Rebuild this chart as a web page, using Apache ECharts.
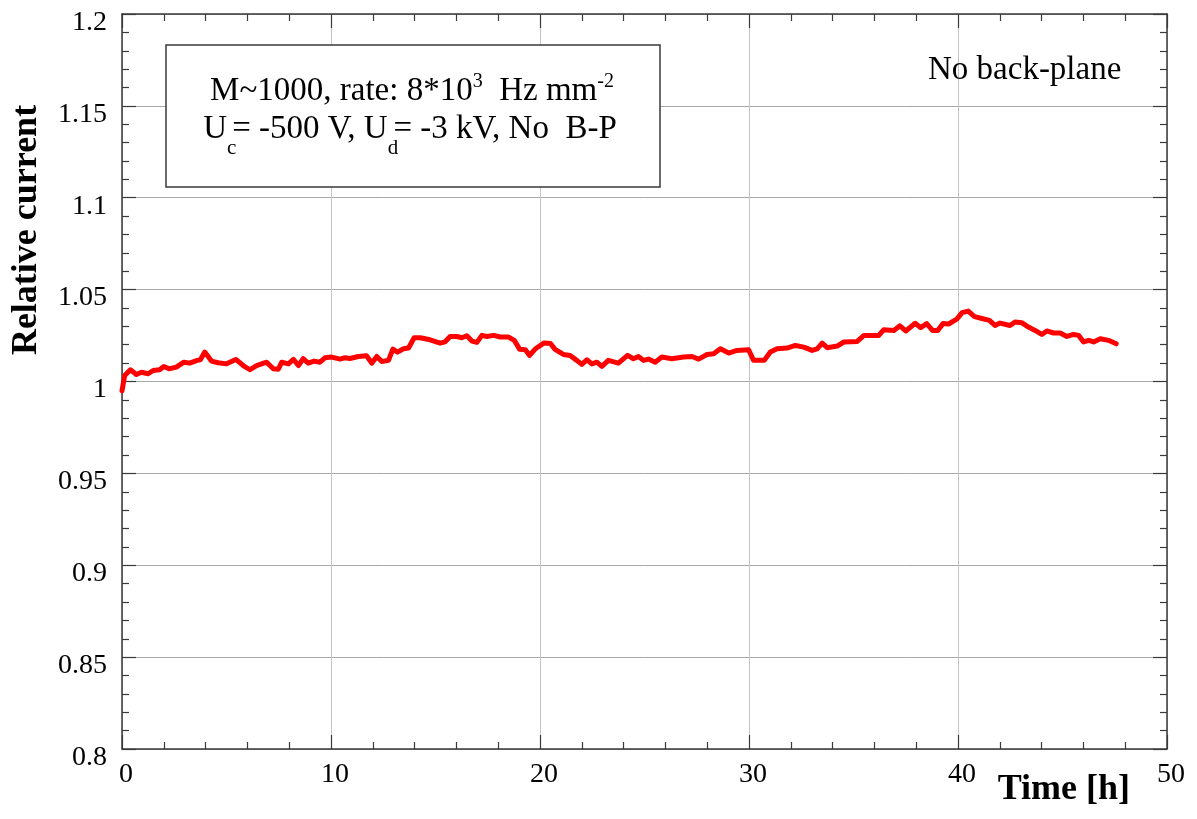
<!DOCTYPE html>
<html>
<head>
<meta charset="utf-8">
<script src="https://cdn.jsdelivr.net/npm/echarts@6/dist/echarts.min.js"></script>
<style>
  html, body { margin: 0; padding: 0; background: #ffffff; }
  #chart { width: 1197px; height: 819px; }
</style>
</head>
<body>
<div id="chart"></div>
<script>
// Relative anode current versus irradiation time (no back-plane configuration)
const hours = [
  0.0, 0.13, 0.4, 0.69, 0.93, 1.25, 1.49, 1.8, 2.0, 2.25, 2.6, 2.96, 3.24, 3.6, 3.75, 3.96,
  4.28, 4.6, 5.0, 5.45, 5.8, 6.12, 6.44, 6.92, 7.24, 7.48, 7.64, 7.96, 8.2, 8.44, 8.67, 8.91,
  9.19, 9.47, 9.71, 10.03, 10.43, 10.67, 10.9, 11.31, 11.7, 11.95, 12.19, 12.43, 12.75, 12.96,
  13.18, 13.47, 13.71, 13.98, 14.27, 14.74, 15.22, 15.46, 15.7, 16.02, 16.26, 16.5, 16.74, 16.98,
  17.22, 17.46, 17.78, 18.1, 18.5, 18.77, 19.03, 19.3, 19.5, 19.78, 20.2, 20.5, 20.72, 21.12,
  21.44, 21.76, 22.0, 22.24, 22.48, 22.72, 22.96, 23.27, 23.75, 24.19, 24.47, 24.71, 24.95, 25.19,
  25.51, 25.83, 26.31, 26.87, 27.27, 27.59, 27.99, 28.31, 28.63, 29.03, 29.42, 29.98, 30.22, 30.73,
  31.02, 31.34, 31.82, 32.22, 32.62, 33.02, 33.26, 33.5, 33.74, 34.22, 34.54, 35.18, 35.5, 36.21,
  36.45, 36.93, 37.22, 37.5, 37.95, 38.21, 38.5, 38.78, 39.03, 39.28, 39.55, 39.94, 40.2, 40.49,
  40.79, 41.15, 41.5, 41.77, 42.01, 42.49, 42.73, 43.05, 43.37, 43.69, 44.01, 44.25, 44.57, 44.89,
  45.21, 45.53, 45.77, 46.01, 46.25, 46.49, 46.81, 47.2, 47.57
];
const current = [
  0.995, 1.0033, 1.0064, 1.0038, 1.005, 1.0042, 1.006, 1.0064, 1.0082, 1.0069, 1.0078, 1.0105, 1.01, 1.0115, 1.0118, 1.016,
  1.0111, 1.0102, 1.0096, 1.012, 1.0087, 1.0064, 1.0087, 1.0105, 1.0069, 1.0067, 1.0105, 1.0096, 1.012, 1.0087, 1.0124, 1.01,
  1.0111, 1.0105, 1.0129, 1.0133, 1.0122, 1.0129, 1.0125, 1.0136, 1.014, 1.01, 1.0136, 1.0109, 1.0115, 1.0176,
  1.016, 1.0178, 1.0182, 1.0238, 1.0238, 1.0227, 1.0209, 1.0216, 1.0245, 1.0245, 1.0238, 1.0249, 1.022, 1.0213,
  1.0251, 1.0245, 1.0251, 1.0242, 1.0242, 1.0224, 1.0175, 1.0173, 1.0142, 1.0178, 1.021, 1.0207, 1.0175, 1.0147,
  1.0142, 1.0115, 1.0093, 1.0118, 1.0096, 1.0105, 1.0082, 1.0115, 1.01, 1.0142, 1.0124, 1.0136, 1.0115, 1.0122,
  1.0105, 1.0133, 1.0124, 1.0133, 1.0136, 1.0122, 1.0147, 1.0151, 1.0178, 1.0155, 1.0169, 1.0173, 1.0115, 1.0115,
  1.016, 1.0178, 1.0182, 1.0196, 1.0187, 1.0169, 1.0178, 1.0209, 1.0184, 1.0193, 1.0215, 1.0218, 1.0251, 1.0251,
  1.0282, 1.0278, 1.0303, 1.0275, 1.0317, 1.0293, 1.0315, 1.0278, 1.0278, 1.0315, 1.0313, 1.0339, 1.0375, 1.0383,
  1.0353, 1.0343, 1.0333, 1.0305, 1.0318, 1.0305, 1.0324, 1.032, 1.0296, 1.0278, 1.0256, 1.0275, 1.0264, 1.0264,
  1.0245, 1.0256, 1.0251, 1.0215, 1.0224, 1.0215, 1.0233, 1.0224, 1.0205
];

const xTicks = [0, 10, 20, 30, 40, 50];
const yTicks = [0.8, 0.85, 0.9, 0.95, 1, 1.05, 1.1, 1.15, 1.2];

const xTitle = 'Time [h]';
const yTitle = 'Relative current';
const cornerNote = 'No back-plane';
// Legend box lines, split into normal / superscript / subscript pieces
const boxLine1 = [
  { t: 'M~1000, rate: 8*10', k: 'n' },
  { t: '3', k: 'sup' },
  { t: '  Hz mm', k: 'n' },
  { t: '-2', k: 'sup' }
];
const boxLine2 = [
  { t: 'U', k: 'n' },
  { t: 'c', k: 'sub' },
  { t: '= -500 V, U', k: 'n' },
  { t: 'd', k: 'sub' },
  { t: '= -3 kV, No  B-P', k: 'n' }
];

const SERIF = '"Liberation Serif", "Times New Roman", serif';
const FRAME = '#3a3a3a';

const chart = echarts.init(document.getElementById('chart'), null, { renderer: 'canvas' });

// measure text runs so sub/superscripts can be laid out by hand
const mctx = document.createElement('canvas').getContext('2d');
function textWidth(str, size) {
  mctx.font = size + 'px ' + SERIF;
  return mctx.measureText(str).width;
}
// place a text run so that its alphabetic baseline sits at `baseline`
function baselineText(str, x, baseline, font, size, align) {
  return {
    type: 'text',
    x: x,
    y: baseline - 0.33 * size,
    z: 20,
    style: {
      text: str,
      font: font,
      fill: '#000',
      align: align || 'left',
      verticalAlign: 'middle'
    }
  };
}
function layoutLine(pieces, cx, baseline) {
  const spec = {
    n: { size: 33, dy: 0 },
    sup: { size: 20, dy: -14 },
    sub: { size: 21, dy: 15 }
  };
  const widths = pieces.map(p => {
    const w = textWidth(p.t, spec[p.k].size);
    return p.k === 'sub' ? w * 0.55 : w;
  });
  const total = widths.reduce((a, b) => a + b, 0);
  let x = cx - total / 2;
  return pieces.map((p, i) => {
    const s = spec[p.k];
    const el = baselineText(p.t, x, baseline + s.dy, s.size + 'px ' + SERIF, s.size, 'left');
    x += widths[i];
    return el;
  });
}

// frame axes: ticks point into the plot, axes stay on the frame edges
function axisStyle() {
  return {
    axisLine: { show: true, onZero: false, lineStyle: { color: FRAME, width: 1.5 } },
    axisTick: { show: true, inside: true, length: 14, lineStyle: { color: FRAME, width: 1.2 } },
    minorTick: { show: true, splitNumber: 5, length: 7, lineStyle: { color: FRAME, width: 1.2 } }
  };
}

const option = {
  backgroundColor: '#ffffff',
  animation: false,
  grid: { left: 122, right: 30, top: 14, bottom: 70, containLabel: false },
  xAxis: [
    Object.assign({
      type: 'value', position: 'bottom', min: 0, max: 50, interval: 10,
      axisLabel: {
        show: true, margin: 12, padding: [0, 0, 0, 8],
        fontFamily: SERIF, fontSize: 28, color: '#000',
        formatter: v => (xTicks.indexOf(v) >= 0 ? String(v) : '')
      },
      splitLine: { show: true, lineStyle: { color: '#c4c4c4', width: 1 } }
    }, axisStyle()),
    Object.assign({
      type: 'value', position: 'top', min: 0, max: 50, interval: 10,
      axisLabel: { show: false }, splitLine: { show: false }
    }, axisStyle())
  ],
  yAxis: [
    Object.assign({
      type: 'value', position: 'left', min: 0.8, max: 1.2, interval: 0.05,
      axisLabel: {
        show: true, margin: 15, verticalAlign: 'top', lineHeight: 17,
        fontFamily: SERIF, fontSize: 28, color: '#000',
        formatter: v => {
          const r = Math.round(v * 100) / 100;
          return yTicks.some(t => Math.abs(t - r) < 1e-9) ? String(r) : '';
        }
      },
      splitLine: { show: true, lineStyle: { color: '#a8a8a8', width: 1 } }
    }, axisStyle()),
    Object.assign({
      type: 'value', position: 'right', min: 0.8, max: 1.2, interval: 0.05,
      axisLabel: { show: false }, splitLine: { show: false }
    }, axisStyle())
  ],
  series: [{
    type: 'line',
    xAxisIndex: 0,
    yAxisIndex: 0,
    data: hours.map((h, i) => [h, current[i]]),
    showSymbol: false,
    symbol: 'none',
    lineStyle: { color: '#ff0000', width: 5, cap: 'round', join: 'round' },
    z: 5
  }],
  graphic: [
    {
      type: 'rect', z: 15,
      shape: { x: 166, y: 45, width: 494, height: 142 },
      style: { fill: '#ffffff', stroke: FRAME, lineWidth: 1.5 }
    },
    ...layoutLine(boxLine1, 412, 102),
    ...layoutLine(boxLine2, 410, 140),
    baselineText(cornerNote, 928, 81, '33px ' + SERIF, 33, 'left'),
    {
      type: 'text', x: 1130, y: 790, z: 20,
      style: { text: xTitle, font: 'bold 36px ' + SERIF, fill: '#000', align: 'right', verticalAlign: 'middle' }
    },
    {
      type: 'text', x: 27, y: 230, z: 20, rotation: Math.PI / 2,
      style: { text: yTitle, font: 'bold 36px ' + SERIF, fill: '#000', align: 'center', verticalAlign: 'middle' }
    }
  ]
};

chart.setOption(option);
</script>
</body>
</html>
